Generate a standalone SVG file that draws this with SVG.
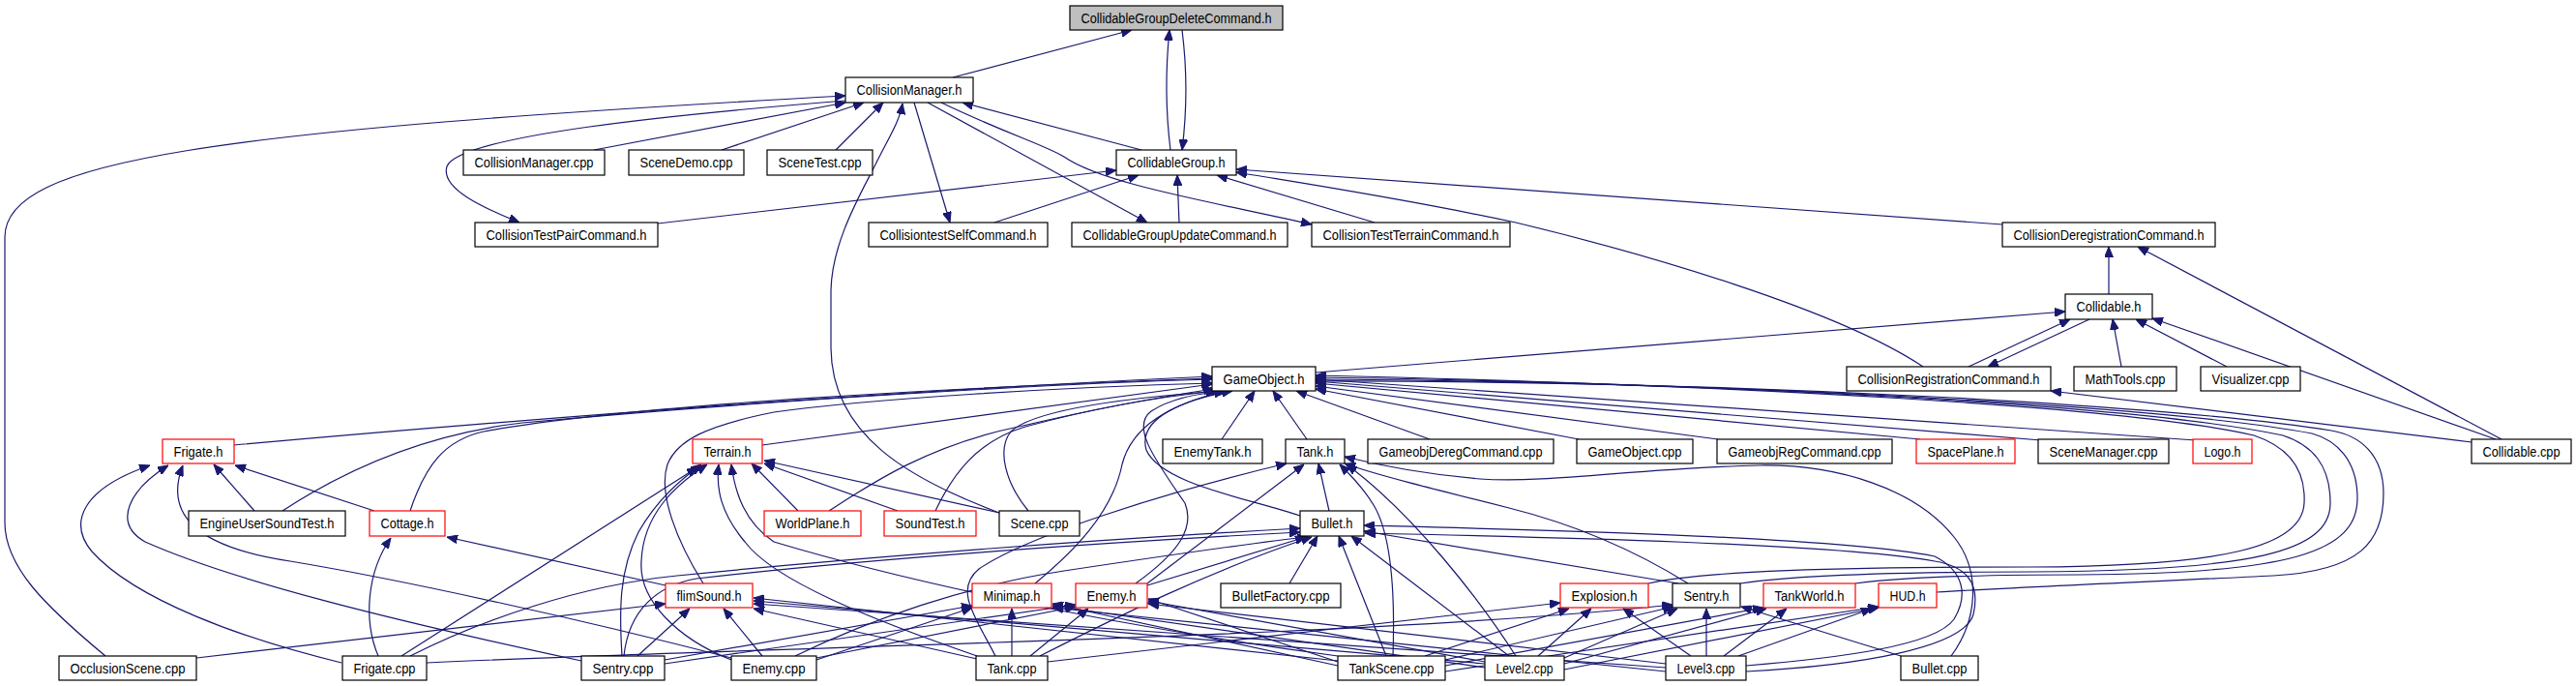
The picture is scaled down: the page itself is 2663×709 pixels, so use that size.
<svg xmlns="http://www.w3.org/2000/svg" width="2663" height="709" viewBox="0 0 2663 709">
<style>
.n rect{fill:#fff;stroke:#000;stroke-width:1.2}
.n.red rect{stroke:#ff0000}
.n.root rect{fill:#bfbfbf}
.n text{font-family:"Liberation Sans",Arial,sans-serif;font-size:14px;fill:#000;text-anchor:middle}
#edges path{fill:none;stroke:#191970;stroke-width:1.2;marker-end:url(#ah)}
</style>
<defs>
<marker id="ah" markerUnits="userSpaceOnUse" markerWidth="11" markerHeight="9" viewBox="0 0 11 9" refX="11" refY="4.5" orient="auto">
<path d="M0,0 L11,4.5 L0,9 z" fill="#191970" stroke="#191970" stroke-width="1"/>
</marker>
</defs>
<rect width="2663" height="709" fill="#fff"/>
<g id="edges">
<path d="M985,80 L1170,31"/>
<path d="M1210,155 C1205,115 1205,70 1209,31"/>
<path d="M1222,31 C1227,70 1227,115 1222,155"/>
<path d="M109,678 C45,625 5,585 5,540 L5,245 C5,165 220,135 874,99"/>
<path d="M874,104 C700,118 475,140 462,172 C455,195 500,215 537,230"/>
<path d="M614,155 L874,106"/>
<path d="M746,155 L893,106"/>
<path d="M864,155 L913,106"/>
<path d="M1033,530 C940,495 860,450 859,360 L859,300 C860,250 890,200 905,170 C920,140 930,125 933,107"/>
<path d="M1180,155 L995,106"/>
<path d="M945,106 L982,230"/>
<path d="M959,106 L1186,230"/>
<path d="M973,106 C1040,138 1080,150 1100,162 C1140,190 1250,208 1356,232"/>
<path d="M680,231 L1154,176"/>
<path d="M1028,230 L1177,181"/>
<path d="M1219,230 L1217,181"/>
<path d="M1421,230 L1258,181"/>
<path d="M2070,232 L1278,175"/>
<path d="M1988,379 C1900,320 1700,262 1567,230 C1450,205 1350,190 1278,178"/>
<path d="M2180,304 L2180,255"/>
<path d="M2586,454 L2210,255"/>
<path d="M1360,385 L2135,322"/>
<path d="M2035,379 L2140,330"/>
<path d="M2160,330 L2055,379"/>
<path d="M2193,379 L2184,330"/>
<path d="M2302,379 L2208,330"/>
<path d="M2580,454 L2225,329"/>
<path d="M2555,457 L2120,404"/>
<path d="M242,460 C500,437 900,405 1253,389"/>
<path d="M292,528 C350,490 430,450 540,437 C800,413 1100,396 1253,392"/>
<path d="M424,528 C440,480 460,455 500,446 C650,418 1000,400 1253,391"/>
<path d="M788,460 L1253,397"/>
<path d="M727,603 C700,560 680,510 690,480 C700,455 730,440 800,426 C900,412 1100,400 1254,396"/>
<path d="M857,528 C900,500 960,460 1053,441 C1130,423 1200,410 1255,402"/>
<path d="M967,528 C985,490 1010,456 1060,441 C1130,422 1200,410 1258,404"/>
<path d="M1063,528 C1040,500 1030,465 1045,446 C1070,422 1180,410 1262,404"/>
<path d="M1070,603 C1110,570 1150,530 1160,480 C1170,440 1210,418 1266,404"/>
<path d="M1174,603 C1220,570 1235,545 1225,520 C1190,470 1170,440 1190,425 C1210,412 1240,406 1270,404"/>
<path d="M1344,533 C1290,515 1200,500 1185,465 C1175,430 1230,412 1274,404"/>
<path d="M1263,454 L1297,404"/>
<path d="M1351,454 L1316,404"/>
<path d="M1478,454 L1340,404"/>
<path d="M1632,454 L1360,402"/>
<path d="M1776,454 L1360,399"/>
<path d="M1985,454 L1360,396"/>
<path d="M2110,455 L1360,394"/>
<path d="M2270,455 L1360,392"/>
<path d="M1704,603 C1760,590 1900,586 2100,586 C2300,585 2380,565 2382,520 C2384,480 2360,460 2330,450 C2200,420 1800,398 1360,388"/>
<path d="M1799,603 C1850,595 1950,591 2100,591 C2330,590 2409,570 2409,520 C2409,480 2390,460 2360,450 C2220,420 1800,396 1360,390"/>
<path d="M1918,603 C1970,596 2050,594 2150,594 C2370,593 2437,570 2437,515 C2437,475 2415,455 2390,448 C2240,420 1800,395 1360,392"/>
<path d="M2002,612 C2100,606 2250,600 2350,595 C2440,590 2464,560 2464,510 C2464,470 2440,450 2410,445 C2260,420 1800,393 1360,394"/>
<path d="M1374,528 L1363,479"/>
<path d="M1186,603 L1348,480"/>
<path d="M1029,678 C1010,640 985,610 1012,588 C1060,555 1200,510 1330,479"/>
<path d="M1440,678 C1442,620 1440,555 1420,522 C1408,502 1395,490 1385,480"/>
<path d="M1567,678 C1530,620 1460,530 1392,480"/>
<path d="M1745,603 C1700,575 1640,545 1560,525 C1480,505 1420,490 1390,479"/>
<path d="M2017,678 C2045,640 2048,590 2020,555 C1980,505 1900,480 1820,481 C1700,483 1600,500 1530,495 C1470,490 1430,482 1390,472"/>
<path d="M1333,603 L1362,554"/>
<path d="M1433,678 L1384,554"/>
<path d="M1560,678 L1397,554"/>
<path d="M1735,603 L1410,549"/>
<path d="M1805,688 C1900,680 2000,668 2020,640 C2035,615 2030,590 2000,575 C1900,555 1600,548 1410,543"/>
<path d="M1805,694 C1920,688 2030,670 2040,635 C2048,600 2030,585 2000,580 C1900,562 1600,555 1411,551"/>
<path d="M415,678 L721,483"/>
<path d="M643,678 C640,630 640,590 660,550 C680,515 705,495 725,480"/>
<path d="M756,682 C700,660 660,620 663,580 C665,530 700,500 731,480"/>
<path d="M1010,678 C900,640 800,600 770,560 C745,530 740,505 743,480"/>
<path d="M1383,678 C1100,640 900,590 800,560 C770,540 760,510 756,480"/>
<path d="M825,528 L777,479"/>
<path d="M928,528 L790,479"/>
<path d="M1033,530 L790,476"/>
<path d="M263,528 L221,480"/>
<path d="M387,528 L243,481"/>
<path d="M353,685 C250,660 140,620 95,570 C70,540 85,505 155,481"/>
<path d="M601,683 C400,640 240,600 150,560 C115,540 135,505 174,481"/>
<path d="M756,680 C600,640 420,600 300,580 C200,565 170,530 189,481"/>
<path d="M391,678 C375,640 380,590 404,556"/>
<path d="M688,605 L462,555"/>
<path d="M203,680 L688,624"/>
<path d="M659,678 L713,629"/>
<path d="M788,678 L748,629"/>
<path d="M1010,681 L779,629"/>
<path d="M1383,683 L779,618"/>
<path d="M1535,686 L779,621"/>
<path d="M1722,690 L779,624"/>
<path d="M687,682 L1005,626"/>
<path d="M844,682 L1005,628"/>
<path d="M1046,678 L1046,629"/>
<path d="M1383,688 L1088,624"/>
<path d="M1535,690 L1088,626"/>
<path d="M1722,694 L1088,628"/>
<path d="M687,686 L1112,625"/>
<path d="M844,680 L1112,627"/>
<path d="M1065,678 L1125,629"/>
<path d="M1383,684 L1187,619"/>
<path d="M1535,684 L1187,621"/>
<path d="M1722,686 L1187,624"/>
<path d="M424,678 C500,640 600,605 700,595 C900,575 1150,557 1344,546"/>
<path d="M645,678 C650,630 680,605 720,598 C900,577 1150,560 1344,550"/>
<path d="M1186,605 L1350,555"/>
<path d="M822,678 C900,640 1000,605 1100,590 C1200,575 1300,560 1352,555"/>
<path d="M1075,678 C1150,640 1250,590 1356,555"/>
<path d="M1083,684 L1613,623"/>
<path d="M1473,678 L1622,629"/>
<path d="M1590,678 L1645,629"/>
<path d="M1748,678 L1678,629"/>
<path d="M1494,682 L1730,627"/>
<path d="M1617,680 L1734,629"/>
<path d="M1764,678 L1764,629"/>
<path d="M1965,678 L1800,627"/>
<path d="M441,685 C800,668 1400,660 1729,625"/>
<path d="M1494,688 L1823,628"/>
<path d="M1617,686 L1826,629"/>
<path d="M1782,678 L1847,629"/>
<path d="M1494,694 L1942,627"/>
<path d="M1617,692 L1942,628"/>
<path d="M1797,678 L1935,629"/>
</g>
<g id="n_cgdc" class="n root"><rect x="1106" y="6" width="220" height="25"/><text x="1216" y="23.5" textLength="197" lengthAdjust="spacingAndGlyphs">CollidableGroupDeleteCommand.h</text></g>
<g id="n_cmh" class="n"><rect x="874" y="80" width="132" height="26"/><text x="940" y="97.5" textLength="109" lengthAdjust="spacingAndGlyphs">CollisionManager.h</text></g>
<g id="n_cmcpp" class="n"><rect x="479" y="155" width="146" height="26"/><text x="552" y="172.5" textLength="123" lengthAdjust="spacingAndGlyphs">CollisionManager.cpp</text></g>
<g id="n_scenedemo" class="n"><rect x="650" y="155" width="119" height="26"/><text x="709.5" y="172.5" textLength="96" lengthAdjust="spacingAndGlyphs">SceneDemo.cpp</text></g>
<g id="n_scenetest" class="n"><rect x="793" y="155" width="109" height="26"/><text x="847.5" y="172.5" textLength="86" lengthAdjust="spacingAndGlyphs">SceneTest.cpp</text></g>
<g id="n_cgh" class="n"><rect x="1154" y="155" width="124" height="26"/><text x="1216" y="172.5" textLength="101" lengthAdjust="spacingAndGlyphs">CollidableGroup.h</text></g>
<g id="n_ctpc" class="n"><rect x="491" y="230" width="189" height="25"/><text x="585.5" y="247.5" textLength="166" lengthAdjust="spacingAndGlyphs">CollisionTestPairCommand.h</text></g>
<g id="n_ctsc" class="n"><rect x="898" y="230" width="185" height="25"/><text x="990.5" y="247.5" textLength="162" lengthAdjust="spacingAndGlyphs">CollisiontestSelfCommand.h</text></g>
<g id="n_cguc" class="n"><rect x="1108" y="230" width="223" height="25"/><text x="1219.5" y="247.5" textLength="200" lengthAdjust="spacingAndGlyphs">CollidableGroupUpdateCommand.h</text></g>
<g id="n_cttc" class="n"><rect x="1356" y="230" width="205" height="25"/><text x="1458.5" y="247.5" textLength="182" lengthAdjust="spacingAndGlyphs">CollisionTestTerrainCommand.h</text></g>
<g id="n_cdrc" class="n"><rect x="2070" y="230" width="220" height="25"/><text x="2180" y="247.5" textLength="197" lengthAdjust="spacingAndGlyphs">CollisionDeregistrationCommand.h</text></g>
<g id="n_collidableh" class="n"><rect x="2135" y="304" width="90" height="26"/><text x="2180" y="321.5" textLength="67" lengthAdjust="spacingAndGlyphs">Collidable.h</text></g>
<g id="n_goh" class="n"><rect x="1253" y="379" width="107" height="25"/><text x="1306.5" y="396.5" textLength="84" lengthAdjust="spacingAndGlyphs">GameObject.h</text></g>
<g id="n_crc" class="n"><rect x="1909" y="379" width="211" height="25"/><text x="2014.5" y="396.5" textLength="188" lengthAdjust="spacingAndGlyphs">CollisionRegistrationCommand.h</text></g>
<g id="n_mathtools" class="n"><rect x="2144" y="379" width="106" height="25"/><text x="2197" y="396.5" textLength="83" lengthAdjust="spacingAndGlyphs">MathTools.cpp</text></g>
<g id="n_visualizer" class="n"><rect x="2275" y="379" width="103" height="25"/><text x="2326.5" y="396.5" textLength="80" lengthAdjust="spacingAndGlyphs">Visualizer.cpp</text></g>
<g id="n_frigateh" class="n red"><rect x="168" y="454" width="74" height="25"/><text x="205" y="471.5" textLength="51" lengthAdjust="spacingAndGlyphs">Frigate.h</text></g>
<g id="n_terrainh" class="n red"><rect x="716" y="454" width="72" height="25"/><text x="752" y="471.5" textLength="49" lengthAdjust="spacingAndGlyphs">Terrain.h</text></g>
<g id="n_enemytank" class="n"><rect x="1202" y="454" width="103" height="25"/><text x="1253.5" y="471.5" textLength="80" lengthAdjust="spacingAndGlyphs">EnemyTank.h</text></g>
<g id="n_tankh" class="n"><rect x="1329" y="454" width="61" height="25"/><text x="1359.5" y="471.5" textLength="38" lengthAdjust="spacingAndGlyphs">Tank.h</text></g>
<g id="n_gdc" class="n"><rect x="1414" y="454" width="192" height="25"/><text x="1510" y="471.5" textLength="169" lengthAdjust="spacingAndGlyphs">GameobjDeregCommand.cpp</text></g>
<g id="n_gocpp" class="n"><rect x="1630" y="454" width="120" height="25"/><text x="1690" y="471.5" textLength="97" lengthAdjust="spacingAndGlyphs">GameObject.cpp</text></g>
<g id="n_grc" class="n"><rect x="1775" y="454" width="181" height="25"/><text x="1865.5" y="471.5" textLength="158" lengthAdjust="spacingAndGlyphs">GameobjRegCommand.cpp</text></g>
<g id="n_spaceplane" class="n red"><rect x="1981" y="454" width="102" height="25"/><text x="2032" y="471.5" textLength="79" lengthAdjust="spacingAndGlyphs">SpacePlane.h</text></g>
<g id="n_scenemanager" class="n"><rect x="2107" y="454" width="135" height="25"/><text x="2174.5" y="471.5" textLength="112" lengthAdjust="spacingAndGlyphs">SceneManager.cpp</text></g>
<g id="n_logo" class="n red"><rect x="2267" y="454" width="61" height="25"/><text x="2297.5" y="471.5" textLength="38" lengthAdjust="spacingAndGlyphs">Logo.h</text></g>
<g id="n_collidablecpp" class="n"><rect x="2555" y="454" width="103" height="25"/><text x="2606.5" y="471.5" textLength="80" lengthAdjust="spacingAndGlyphs">Collidable.cpp</text></g>
<g id="n_eust" class="n"><rect x="195" y="528" width="162" height="26"/><text x="276" y="545.5" textLength="139" lengthAdjust="spacingAndGlyphs">EngineUserSoundTest.h</text></g>
<g id="n_cottage" class="n red"><rect x="382" y="528" width="78" height="26"/><text x="421" y="545.5" textLength="55" lengthAdjust="spacingAndGlyphs">Cottage.h</text></g>
<g id="n_worldplane" class="n red"><rect x="790" y="528" width="100" height="26"/><text x="840" y="545.5" textLength="77" lengthAdjust="spacingAndGlyphs">WorldPlane.h</text></g>
<g id="n_soundtest" class="n red"><rect x="914" y="528" width="95" height="26"/><text x="961.5" y="545.5" textLength="72" lengthAdjust="spacingAndGlyphs">SoundTest.h</text></g>
<g id="n_scenecpp" class="n"><rect x="1033" y="528" width="83" height="26"/><text x="1074.5" y="545.5" textLength="60" lengthAdjust="spacingAndGlyphs">Scene.cpp</text></g>
<g id="n_bulleth" class="n"><rect x="1344" y="528" width="66" height="26"/><text x="1377" y="545.5" textLength="43" lengthAdjust="spacingAndGlyphs">Bullet.h</text></g>
<g id="n_flimsound" class="n red"><rect x="688" y="603" width="90" height="25"/><text x="733" y="620.5" textLength="67" lengthAdjust="spacingAndGlyphs">flimSound.h</text></g>
<g id="n_minimap" class="n red"><rect x="1005" y="603" width="82" height="25"/><text x="1046" y="620.5" textLength="59" lengthAdjust="spacingAndGlyphs">Minimap.h</text></g>
<g id="n_enemyh" class="n red"><rect x="1112" y="603" width="74" height="25"/><text x="1149" y="620.5" textLength="51" lengthAdjust="spacingAndGlyphs">Enemy.h</text></g>
<g id="n_bulletfactory" class="n"><rect x="1262" y="603" width="124" height="25"/><text x="1324" y="620.5" textLength="101" lengthAdjust="spacingAndGlyphs">BulletFactory.cpp</text></g>
<g id="n_explosion" class="n red"><rect x="1613" y="603" width="91" height="25"/><text x="1658.5" y="620.5" textLength="68" lengthAdjust="spacingAndGlyphs">Explosion.h</text></g>
<g id="n_sentryh" class="n"><rect x="1729" y="603" width="70" height="25"/><text x="1764" y="620.5" textLength="47" lengthAdjust="spacingAndGlyphs">Sentry.h</text></g>
<g id="n_tankworld" class="n red"><rect x="1823" y="603" width="95" height="25"/><text x="1870.5" y="620.5" textLength="72" lengthAdjust="spacingAndGlyphs">TankWorld.h</text></g>
<g id="n_hud" class="n red"><rect x="1942" y="603" width="60" height="25"/><text x="1972" y="620.5" textLength="37" lengthAdjust="spacingAndGlyphs">HUD.h</text></g>
<g id="n_occlusion" class="n"><rect x="61" y="678" width="142" height="25"/><text x="132" y="695.5" textLength="119" lengthAdjust="spacingAndGlyphs">OcclusionScene.cpp</text></g>
<g id="n_frigatecpp" class="n"><rect x="354" y="678" width="87" height="25"/><text x="397.5" y="695.5" textLength="64" lengthAdjust="spacingAndGlyphs">Frigate.cpp</text></g>
<g id="n_sentrycpp" class="n"><rect x="601" y="678" width="86" height="25"/><text x="644" y="695.5" textLength="63" lengthAdjust="spacingAndGlyphs">Sentry.cpp</text></g>
<g id="n_enemycpp" class="n"><rect x="756" y="678" width="88" height="25"/><text x="800" y="695.5" textLength="65" lengthAdjust="spacingAndGlyphs">Enemy.cpp</text></g>
<g id="n_tankcpp" class="n"><rect x="1009" y="678" width="74" height="25"/><text x="1046" y="695.5" textLength="51" lengthAdjust="spacingAndGlyphs">Tank.cpp</text></g>
<g id="n_tankscene" class="n"><rect x="1383" y="678" width="111" height="25"/><text x="1438.5" y="695.5" textLength="88" lengthAdjust="spacingAndGlyphs">TankScene.cpp</text></g>
<g id="n_level2" class="n"><rect x="1535" y="678" width="82" height="25"/><text x="1576" y="695.5" textLength="59" lengthAdjust="spacingAndGlyphs">Level2.cpp</text></g>
<g id="n_level3" class="n"><rect x="1722" y="678" width="83" height="25"/><text x="1763.5" y="695.5" textLength="60" lengthAdjust="spacingAndGlyphs">Level3.cpp</text></g>
<g id="n_bulletcpp" class="n"><rect x="1965" y="678" width="80" height="25"/><text x="2005" y="695.5" textLength="57" lengthAdjust="spacingAndGlyphs">Bullet.cpp</text></g>
</svg>
